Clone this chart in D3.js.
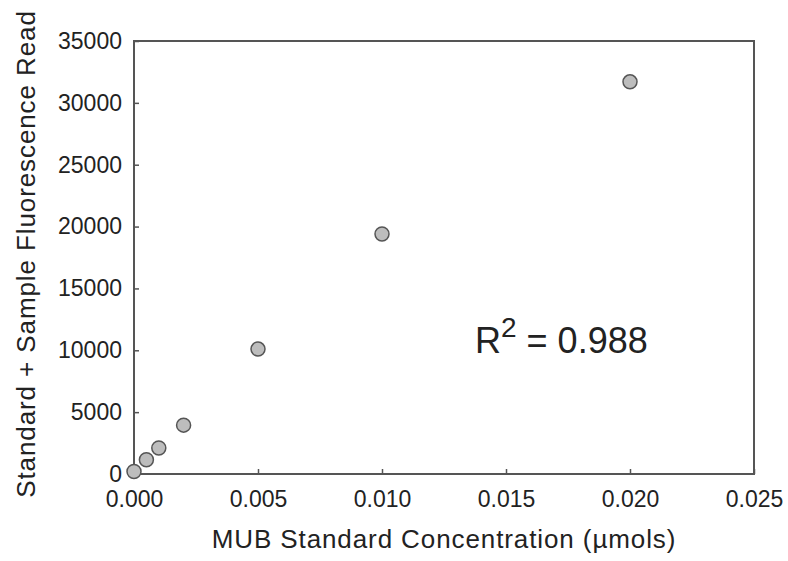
<!DOCTYPE html>
<html>
<head>
<meta charset="utf-8">
<script src="https://cdn.jsdelivr.net/npm/d3@7"></script>
<style>
  body { margin: 0; background: #fff; }
  text { font-family: "Liberation Sans", Arial, sans-serif; fill: #222; }
</style>
</head>
<body>
<script>
// data
var concentration = [0.0, 0.0005, 0.001, 0.002, 0.005, 0.010, 0.020];
var fluorescence = [200, 1150, 2100, 3950, 10100, 19400, 31700];
var xTicks = [0, 0.005, 0.010, 0.015, 0.020, 0.025];
var yTicks = [0, 5000, 10000, 15000, 20000, 25000, 30000, 35000];

var width = 788,
    height = 561;

var svg = d3.select("body")
    .append("svg")
    .attr("width", width)
    .attr("height", height);

var plotLeft = 134, plotRight = 754, plotTop = 41, plotBottom = 474;

var x = d3.scaleLinear().domain([0, 0.025]).range([plotLeft, plotRight]);
var y = d3.scaleLinear().domain([0, 35000]).range([plotBottom, plotTop]);

// frame
svg.append("rect")
    .attr("x", plotLeft)
    .attr("y", plotTop)
    .attr("width", plotRight - plotLeft)
    .attr("height", plotBottom - plotTop)
    .attr("fill", "none")
    .attr("stroke", "#555")
    .attr("stroke-width", 2);

// axes with inward ticks
var xAxis = svg.append("g")
    .attr("transform", "translate(0," + plotBottom + ")")
    .call(d3.axisBottom(x).tickValues(xTicks).tickSize(-5).tickPadding(17).tickFormat(d3.format(".3f")));
var yAxis = svg.append("g")
    .attr("transform", "translate(" + plotLeft + ",0)")
    .call(d3.axisLeft(y).tickValues(yTicks).tickSize(-5).tickPadding(12).tickFormat(d3.format("d")));

[xAxis, yAxis].forEach(function(g){
    g.select(".domain").remove();
    g.attr("font-size", 23).attr("font-family", "Liberation Sans, Arial, sans-serif");
    g.selectAll("line").attr("stroke", "#555").attr("stroke-width", 1.5);
    g.selectAll("text").attr("fill", "#222");
});

// points
svg.selectAll(".pt")
    .data(concentration)
    .enter()
    .append("circle")
    .attr("class", "pt")
    .attr("cx", function(d){ return x(d); })
    .attr("cy", function(d, i){ return y(fluorescence[i]); })
    .attr("r", 7)
    .attr("fill", "#bdbdbd")
    .attr("stroke", "#555")
    .attr("stroke-width", 1.5);

// axis titles
svg.append("text")
    .attr("x", (plotLeft + plotRight) / 2)
    .attr("y", 548)
    .attr("text-anchor", "middle")
    .attr("font-size", 26)
    .style("letter-spacing", "0.9px")
    .text("MUB Standard Concentration (µmols)");

svg.append("text")
    .attr("transform", "translate(35,254) rotate(-90)")
    .attr("text-anchor", "middle")
    .attr("font-size", 26)
    .style("letter-spacing", "0.9px")
    .text("Standard + Sample Fluorescence Read");

// R squared
var r2 = svg.append("text")
    .attr("x", 475)
    .attr("y", 353)
    .attr("font-size", 36);
r2.append("tspan").text("R");
r2.append("tspan").attr("dy", -16).attr("font-size", 28).text("2");
r2.append("tspan").attr("dy", 16).text(" = 0.988");
</script>
</body>
</html>
